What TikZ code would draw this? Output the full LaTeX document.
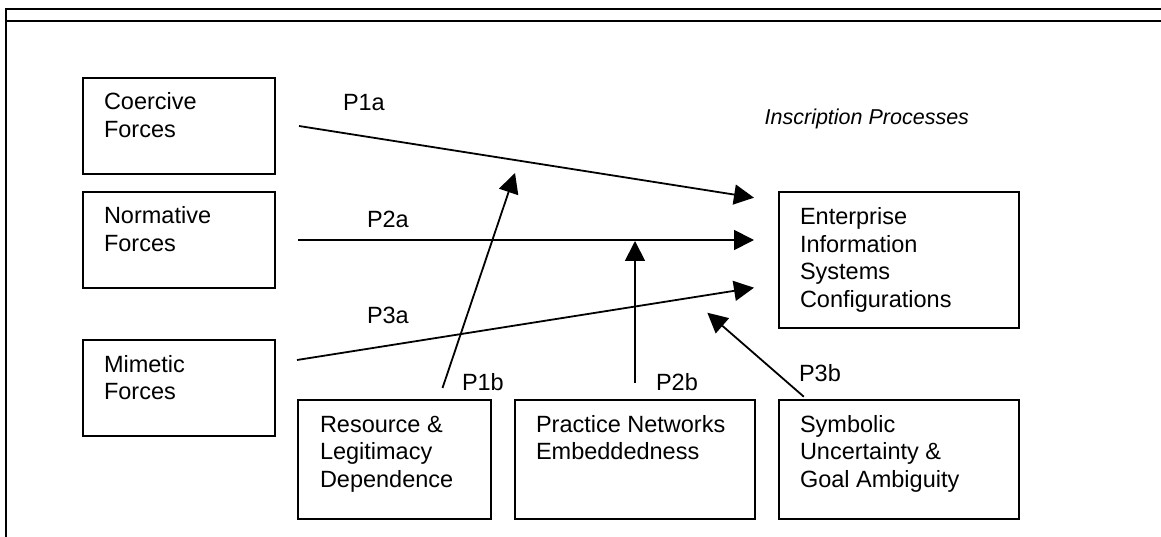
\documentclass[tikz,border=0pt]{standalone}
\usepackage{fontspec}
\setmainfont{Liberation Sans}
\usetikzlibrary{arrows.meta}
\begin{document}
\begin{tikzpicture}[x=1pt,y=-1pt,
  box/.style={draw, line width=1.8pt, inner sep=0pt, outer sep=0pt},
  lbl/.style={inner sep=0pt, outer sep=0pt, anchor=base west, font=\fontsize{23.5}{27.5}\selectfont},
  conn/.style={line width=1.8pt, -{Triangle[length=20pt,width=20pt]}},
  frame/.style={line width=2.6pt}]
\useasboundingbox (0,0) rectangle (1161,537);
% frame
\draw[frame] (1161,9) -- (6,9) -- (6,540);
\draw[frame] (6,21) -- (1161,21);
% boxes
\node[box, minimum width=192pt, minimum height=96pt] (coe) at (179,126) {};
\node[box, minimum width=192pt, minimum height=96pt] (nor) at (179,240) {};
\node[box, minimum width=192pt, minimum height=96pt] (mim) at (179,388) {};
\node[box, minimum width=240pt, minimum height=136pt] (ent) at (899,260) {};
\node[box, minimum width=193pt, minimum height=119pt] (res) at (394.5,459.5) {};
\node[box, minimum width=240pt, minimum height=119pt] (pra) at (635,459.5) {};
\node[box, minimum width=240pt, minimum height=119pt] (sym) at (899,459.5) {};
% box texts
\node[lbl] (coeT) at (104,110) {\begin{tabular}[t]{@{}l@{}}Coercive\\Forces\end{tabular}};
\node[lbl] (norT) at (104,224) {\begin{tabular}[t]{@{}l@{}}Normative\\Forces\end{tabular}};
\node[lbl] (mimT) at (104,372) {\begin{tabular}[t]{@{}l@{}}Mimetic\\Forces\end{tabular}};
\node[lbl] (entT) at (800,225) {\begin{tabular}[t]{@{}l@{}}Enterprise\\Information\\Systems\\Configurations\end{tabular}};
\node[lbl] (resT) at (320,432) {\begin{tabular}[t]{@{}l@{}}Resource \&\\Legitimacy\\Dependence\end{tabular}};
\node[lbl] (praT) at (536,432) {\begin{tabular}[t]{@{}l@{}}Practice Networks\\Embeddedness\end{tabular}};
\node[lbl] (symT) at (800,432) {\begin{tabular}[t]{@{}l@{}}Symbolic\\Uncertainty \&\\Goal Ambiguity\end{tabular}};
\node[lbl, anchor=base east, font=\fontsize{21.5}{25}\selectfont\itshape] (insc) at (969,125) {Inscription Processes};
% connector end points
\coordinate (p1aS) at (299,126);
\coordinate (p1aE) at (754,197.7);
\coordinate (p2aS) at (298,240);
\coordinate (p2aE) at (754,240);
\coordinate (p3aS) at (297,360);
\coordinate (p3aE) at (754,287.7);
\coordinate (p1bS) at (442.5,388);
\coordinate (p1bE) at (515,173);
\coordinate (p2bS) at (635,383);
\coordinate (p2bE) at (635,241);
\coordinate (p3bS) at (803.8,396.7);
\coordinate (p3bE) at (707.3,312.7);
% connectors
\draw[conn] (p1aS) -- (p1aE);
\draw[conn] (p2aS) -- (p2aE);
\draw[conn] (p3aS) -- (p3aE);
\draw[conn] (p1bS) -- (p1bE);
\draw[conn] (p2bS) -- (p2bE);
\draw[conn] (p3bS) -- (p3bE);
% labels
\node[lbl] (l1a) at (343,110.7) {P1a};
\node[lbl] (l2a) at (367,228) {P2a};
\node[lbl] (l3a) at (367,323) {P3a};
\node[lbl] (l1b) at (462,390) {P1b};
\node[lbl] (l2b) at (656,390) {P2b};
\node[lbl] (l3b) at (799,381) {P3b};
\end{tikzpicture}
\end{document}
